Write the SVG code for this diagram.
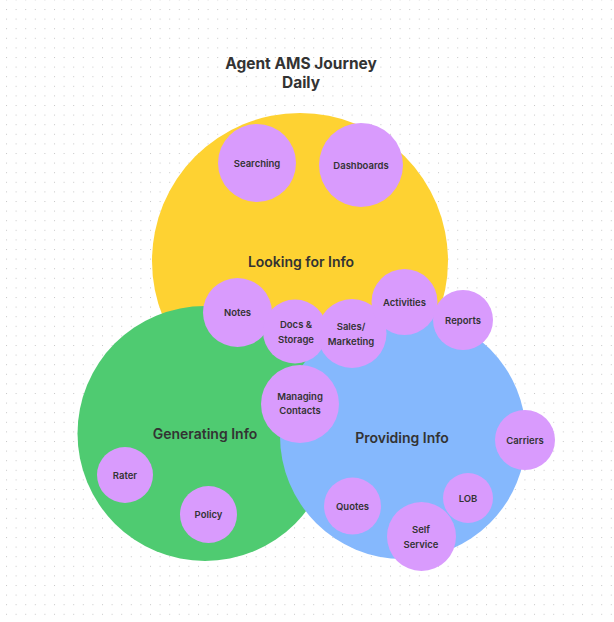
<svg xmlns="http://www.w3.org/2000/svg" width="614" height="622" viewBox="0 0 614 622">
<style>
.bg{fill:#ffffff}
.set{stroke:none}
.y{fill:#fed232}
.g{fill:#4fcb71}
.b{fill:#85b8fd}
.p{fill:#d99bfd}
text{font-family:Inter,"Noto Sans","Liberation Sans",sans-serif;fill:#333333;text-anchor:middle}
.t{font-size:15.5px;font-weight:700}
.h{font-size:14px;font-weight:600}
.s{font-size:9.5px;font-weight:600}
</style>
<defs>
<pattern id="dots" x="6" y="9" width="9.6" height="9.6" patternUnits="userSpaceOnUse">
<rect x="0" y="0" width="1" height="1" fill="#c8c8c8"/>
</pattern>
</defs>
<rect class="bg" x="0" y="0" width="614" height="622"/>
<rect x="0" y="0" width="614" height="622" fill="url(#dots)"/>
<g id="title">
<text class="t" x="301" y="69">Agent AMS Journey</text>
<text class="t" x="301" y="88">Daily</text>
</g>
<g id="looking-for-info">
<circle class="set y" cx="300" cy="261" r="148"/>
<text class="h" x="301" y="267">Looking for Info</text>
</g>
<g id="generating-info">
<circle class="set g" cx="205" cy="433.5" r="127.5"/>
<text class="h" x="205" y="439">Generating Info</text>
</g>
<g id="providing-info">
<circle class="set b" cx="403" cy="436" r="123"/>
<text class="h" x="402" y="443">Providing Info</text>
</g>
<g id="connectors"></g>
<g id="searching"><circle class="p" cx="257" cy="163" r="39"/><text class="s" x="257" y="166.5">Searching</text></g>
<g id="dashboards"><circle class="p" cx="361" cy="165" r="42"/><text class="s" x="361" y="168.5">Dashboards</text></g>
<g id="notes"><circle class="p" cx="237.5" cy="312.5" r="34.5"/><text class="s" x="237.5" y="316">Notes</text></g>
<g id="docs-storage"><circle class="p" cx="295" cy="331.5" r="32"/><text class="s" x="296" y="328">Docs &amp;</text><text class="s" x="296" y="343">Storage</text></g>
<g id="sales-marketing"><circle class="p" cx="352" cy="333.5" r="34.5"/><text class="s" x="351" y="330">Sales/</text><text class="s" x="351" y="345">Marketing</text></g>
<g id="activities"><circle class="p" cx="404.5" cy="302" r="33"/><text class="s" x="404.5" y="306">Activities</text></g>
<g id="reports"><circle class="p" cx="463" cy="320" r="30"/><text class="s" x="463" y="324">Reports</text></g>
<g id="managing-contacts"><circle class="p" cx="300" cy="404" r="39"/><text class="s" x="300" y="400">Managing</text><text class="s" x="300" y="414">Contacts</text></g>
<g id="rater"><circle class="p" cx="125" cy="475" r="28"/><text class="s" x="125" y="478.5">Rater</text></g>
<g id="policy"><circle class="p" cx="208.5" cy="514.5" r="28.5"/><text class="s" x="208.5" y="518">Policy</text></g>
<g id="carriers"><circle class="p" cx="525" cy="440" r="30"/><text class="s" x="525" y="443.5">Carriers</text></g>
<g id="quotes"><circle class="p" cx="352.5" cy="506" r="28.5"/><text class="s" x="352.5" y="509.5">Quotes</text></g>
<g id="lob"><circle class="p" cx="468" cy="498" r="25"/><text class="s" x="468" y="501.5">LOB</text></g>
<g id="self-service"><circle class="p" cx="421.5" cy="536.5" r="34.5"/><text class="s" x="421" y="533">Self</text><text class="s" x="421" y="548">Service</text></g>
</svg>
